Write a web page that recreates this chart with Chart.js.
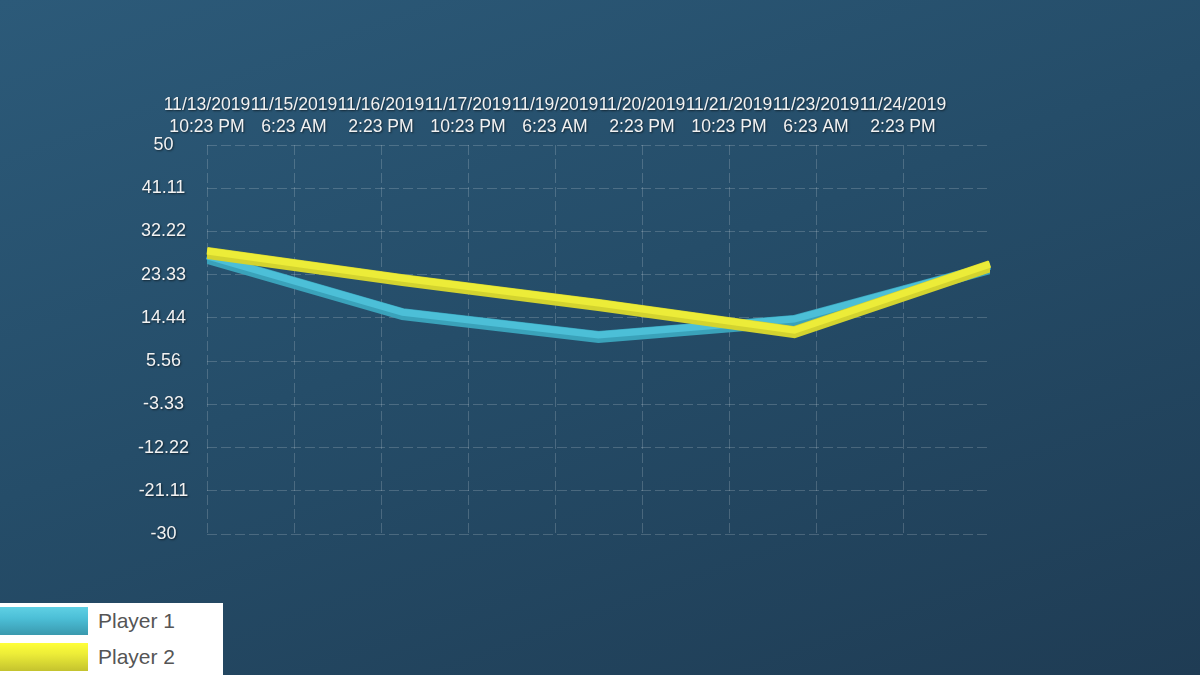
<!DOCTYPE html>
<html>
<head>
<meta charset="utf-8">
<script src="https://cdn.jsdelivr.net/npm/chart.js@4/dist/chart.umd.min.js"></script>
<style>
  html, body { margin: 0; padding: 0; }
  body {
    width: 1200px; height: 675px; overflow: hidden; position: relative;
    background: linear-gradient(160deg, #2c5a79 0%, #254d69 45%, #1f3c54 100%);
    font-family: "Liberation Sans", Arial, sans-serif;
  }
  #wrap { position: absolute; left: 0; top: 0; width: 1200px; height: 675px; }
  #legend {
    position: absolute; left: 0; top: 603px; width: 223px; height: 72px;
    background: #ffffff;
  }
  .item { position: absolute; left: 0; height: 28px; }
  .swatch { position: absolute; left: 0; top: 0; width: 88px; height: 28px; }
  .label { position: absolute; left: 98px; top: 2px; font-size: 21px; color: #555; white-space: nowrap; }
</style>
</head>
<body>
<div id="wrap"><canvas id="c" width="1200" height="675"></canvas></div>
<div id="legend"></div>
<script>
// Hours since the first sample (11/13/2019 10:23 PM)
const sampleHours = [0, 72, 144, 216, 288];
const player1 = [26.8, 15.2, 10.5, 13.8, 24.7];
const player2 = [27.8, 22.2, 17.1, 11.5, 25.1];
const seriesNames = ['Player 1', 'Player 2'];
const seriesColors = ['#3aa2ba', '#d3d32f'];
const seriesHighlights = ['#4cbfd7', '#ecec38'];
const swatchTop = ['#5fd0e4', '#ffff3a'];
const swatchBottom = ['#3a99ae', '#c4c32e'];

// Time axis: one tick every 32 hours
const xTickLabels = [
  ['11/13/2019', '10:23 PM'],
  ['11/15/2019', '6:23 AM'],
  ['11/16/2019', '2:23 PM'],
  ['11/17/2019', '10:23 PM'],
  ['11/19/2019', '6:23 AM'],
  ['11/20/2019', '2:23 PM'],
  ['11/21/2019', '10:23 PM'],
  ['11/23/2019', '6:23 AM'],
  ['11/24/2019', '2:23 PM']
];
const yTickLabels = ['-30', '-21.11', '-12.22', '-3.33', '5.56', '14.44', '23.33', '32.22', '41.11', '50'];
const yMin = -30, yMax = 50;
const xMin = 0, xMax = 288, xStep = 32;

const gridColor = 'rgba(255,255,255,0.18)';

// Lighter upper stripe on each line for a rounded, tube-like look
const lineSheen = {
  id: 'lineSheen',
  afterDatasetDraw(chart, args) {
    const pts = args.meta.data;
    if (!pts.length) return;
    const ctx = chart.ctx;
    ctx.save();
    ctx.beginPath();
    pts.forEach((p, i) => {
      if (i === 0) ctx.moveTo(p.x, p.y - 2);
      else ctx.lineTo(p.x, p.y - 2);
    });
    ctx.lineWidth = 7;
    ctx.lineJoin = 'miter';
    ctx.lineCap = 'butt';
    ctx.strokeStyle = seriesHighlights[args.index];
    ctx.stroke();
    ctx.restore();
  }
};

// Soft dark shadow behind the tick labels (they sit on a higher layer than the grid)
const labelShadow = {
  id: 'labelShadow',
  afterDatasetsDraw(chart) {
    const ctx = chart.ctx;
    ctx.shadowColor = 'rgba(0,0,0,0.55)';
    ctx.shadowOffsetX = 1;
    ctx.shadowOffsetY = 1;
    ctx.shadowBlur = 2;
  },
  afterDraw(chart) {
    const ctx = chart.ctx;
    ctx.shadowColor = 'rgba(0,0,0,0)';
    ctx.shadowOffsetX = 0;
    ctx.shadowOffsetY = 0;
    ctx.shadowBlur = 0;
  }
};

const toPoints = vals => vals.map((v, i) => ({ x: sampleHours[i], y: v }));

new Chart(document.getElementById('c'), {
  type: 'line',
  data: {
    datasets: [
      {
        label: seriesNames[0],
        data: toPoints(player1),
        borderColor: seriesColors[0],
        borderWidth: 12,
        pointRadius: 0,
        tension: 0,
        borderJoinStyle: 'miter',
        borderCapStyle: 'butt',
        order: 1
      },
      {
        label: seriesNames[1],
        data: toPoints(player2),
        borderColor: seriesColors[1],
        borderWidth: 12,
        pointRadius: 0,
        tension: 0,
        borderJoinStyle: 'miter',
        borderCapStyle: 'butt',
        order: 0
      }
    ]
  },
  options: {
    responsive: false,
    animation: false,
    events: [],
    layout: { padding: { left: 100, right: 210, top: 80, bottom: 141 } },
    plugins: { legend: { display: false }, tooltip: { enabled: false } },
    scales: {
      x: {
        type: 'linear',
        position: 'top',
        min: xMin, max: xMax,
        afterFit(scale) { scale.height = 65; },
        grid: {
          drawTicks: false,
          color: ctx => (ctx.index < xTickLabels.length ? gridColor : 'rgba(0,0,0,0)'),
          lineWidth: 1
        },
        border: { display: false, dash: [10, 4] },
        ticks: {
          stepSize: xStep,
          autoSkip: false,
          maxRotation: 0,
          padding: 6,
          z: 1,
          color: '#f2f2f2',
          font: { family: '"Liberation Sans", Arial, sans-serif', size: 17.6, lineHeight: 1.3 },
          callback: (value, index) => xTickLabels[index] || ''
        }
      },
      y: {
        type: 'linear',
        min: yMin, max: yMax,
        afterFit(scale) { scale.width = 107; },
        border: { display: false, dash: [10, 4] },
        grid: { drawTicks: false, color: gridColor, lineWidth: 1 },
        ticks: {
          count: yTickLabels.length,
          crossAlign: 'center',
          padding: 18,
          z: 1,
          color: '#f2f2f2',
          font: { family: '"Liberation Sans", Arial, sans-serif', size: 18 },
          callback: (value, index) => yTickLabels[index]
        }
      }
    }
  },
  plugins: [lineSheen, labelShadow]
});

// Legend box
const legend = document.getElementById('legend');
seriesNames.forEach((name, i) => {
  const item = document.createElement('div');
  item.className = 'item';
  item.style.top = (4 + i * 36) + 'px';
  const sw = document.createElement('div');
  sw.className = 'swatch';
  sw.style.background = 'linear-gradient(180deg, ' + swatchTop[i] + ' 0%, ' + seriesHighlights[i] + ' 40%, ' + swatchBottom[i] + ' 100%)';
  const lb = document.createElement('div');
  lb.className = 'label';
  lb.textContent = name;
  item.appendChild(sw);
  item.appendChild(lb);
  legend.appendChild(item);
});
</script>
</body>
</html>
